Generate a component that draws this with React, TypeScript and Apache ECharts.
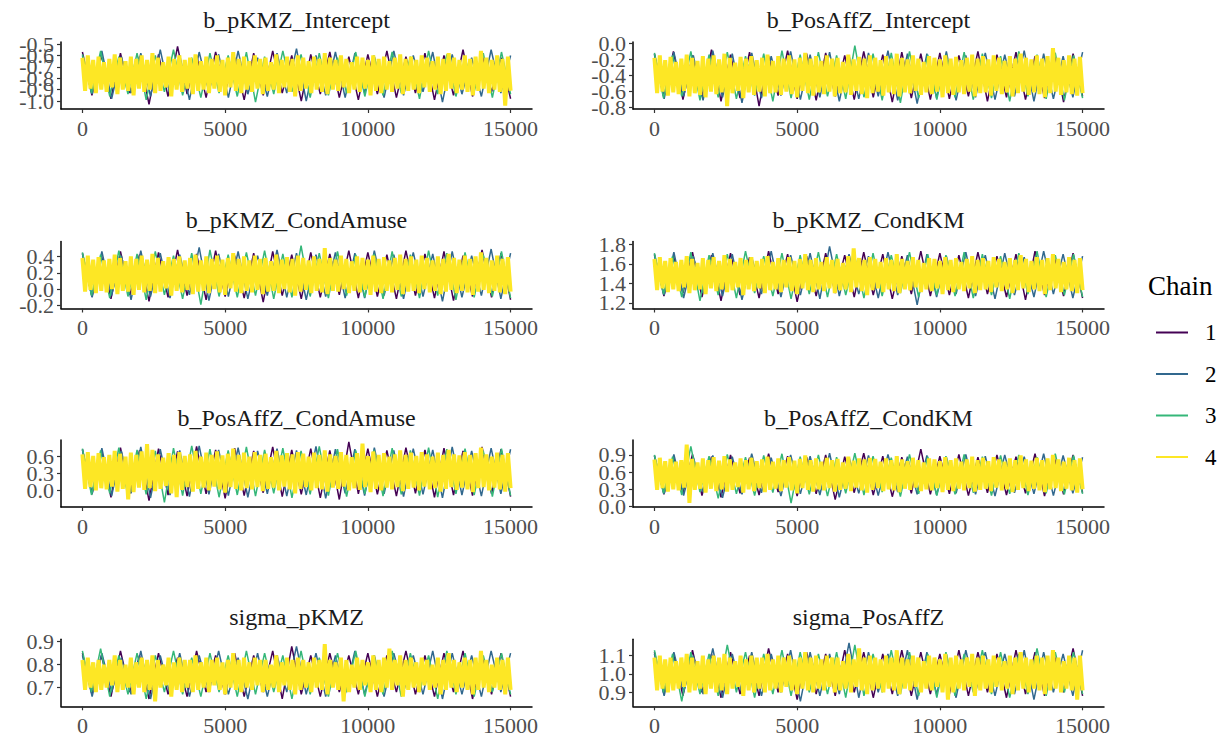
import React, { useEffect, useRef } from "react";
import * as echarts from "echarts";

// ---------- labels ----------
const PANEL_TITLES = [
  "b_pKMZ_Intercept", "b_PosAffZ_Intercept",
  "b_pKMZ_CondAmuse", "b_pKMZ_CondKM",
  "b_PosAffZ_CondAmuse", "b_PosAffZ_CondKM",
  "sigma_pKMZ", "sigma_PosAffZ",
];
const CHAIN_NAMES = ["1", "2", "3", "4"];
const X_TICKS = [0, 5000, 10000, 15000];
const ITER_MAX = 15000;
const Y_TICKS = [
  [-1.0, -0.9, -0.8, -0.7, -0.6, -0.5],
  [-0.8, -0.6, -0.4, -0.2, 0.0],
  [-0.2, 0.0, 0.2, 0.4],
  [1.2, 1.4, 1.6, 1.8],
  [0.0, 0.3, 0.6],
  [0.0, 0.3, 0.6, 0.9],
  [0.7, 0.8, 0.9],
  [0.9, 1.0, 1.1],
];
const Y_LIMITS = [
  [-1.07, -0.482], [-0.816, 0.016],
  [-0.237, 0.582], [1.142, 1.83],
  [-0.293, 0.894], [-0.01, 1.161],
  [0.618, 0.9105], [0.823, 1.19],
];

// ---------- traces (subsampled draws) ----------
const P1_C1 = [-0.57,-0.95,-0.60,-0.98,-0.58,-0.93,-0.61,-1.03,-0.59,-0.96,-0.52,-0.94,-0.60,-0.97,-0.57,-0.92,-0.62,-0.99,-0.58,-0.95,-0.56,-0.93,-0.60,-1.00,-0.59,-0.94,-0.57,-0.97,-0.61,-0.99,-0.59,-0.94,-0.56,-0.97,-0.61,-0.93,-0.58,-0.99,-0.60,-0.95,-0.55,-0.96,-0.59,-0.92,-0.62,-0.98];
const P1_C2 = [-0.60,-0.94,-0.56,-0.98,-0.61,-0.93,-0.58,-0.96,-0.55,-0.95,-0.60,-0.99,-0.57,-0.92,-0.59,-0.97,-0.56,-0.94,-0.62,-0.96,-0.58,-0.93,-0.54,-1.00,-0.60,-0.95,-0.57,-0.97,-0.58,-0.93,-0.61,-0.97,-0.56,-0.95,-0.60,-0.92,-0.57,-1.01,-0.59,-0.94,-0.62,-0.96,-0.55,-0.93,-0.60];
const P1_C3 = [-0.59,-0.93,-0.56,-0.96,-0.61,-0.94,-0.58,-0.99,-0.60,-0.92,-0.55,-0.95,-0.62,-0.97,-0.58,-0.93,-0.60,-0.96,-0.57,-1.01,-0.61,-0.94,-0.56,-0.92,-0.59,-0.97,-0.58,-0.95,-0.62,-0.93,-0.57,-0.96,-0.60,-0.95,-0.57,-0.93,-0.61,-0.98,-0.56,-0.94,-0.59,-0.96,-0.62,-0.92,-0.58,-0.97,-0.57,-0.94];
const P1_C4 = [
  -0.62,-0.91,-0.60,-0.89,-0.64,-0.93,-0.61,-0.90,-0.66,-0.92,-0.63,-0.88,-0.59,-0.94,-0.62,-0.90,-0.65,-0.91,-0.61,-0.95,
  -0.63,-0.89,-0.60,-0.92,-0.64,-0.90,-0.58,-0.93,-0.62,-0.91,-0.66,-0.88,-0.61,-0.96,-0.63,-0.90,-0.60,-0.92,-0.64,-0.89,
  -0.62,-0.94,-0.59,-0.91,-0.65,-0.90,-0.61,-0.93,-0.63,-0.89,-0.60,-0.92,-0.64,-0.95,-0.62,-0.88,-0.57,-0.91,-0.63,-0.93,
  -0.61,-0.90,-0.65,-0.92,-0.60,-0.89,-0.63,-0.94,-0.62,-0.91,-0.66,-0.90,-0.59,-0.93,-0.64,-0.88,-0.61,-0.92,-0.63,-0.96,
  -0.60,-0.91,-0.62,-0.89,-0.65,-0.93,-0.61,-0.90,-0.63,-0.92,-0.58,-0.94,-0.62,-0.90,-0.64,-0.91,-0.60,-0.88,-0.63,-0.93,
  -0.66,-0.90,-0.61,-0.92,-0.62,-0.89,-0.64,-0.95,-0.60,-0.91,-0.63,-0.93,-0.61,-0.90,-0.65,-0.92,-0.62,-0.89,-0.59,-0.94,
  -0.63,-0.91,-0.61,-0.90,-0.64,-0.93,-0.60,-0.88,-0.62,-0.92,-0.65,-0.90,-0.61,-0.94,-0.63,-0.91,-0.58,-0.89,-0.62,-0.93,
  -0.64,-0.90,-0.60,-0.92,-0.63,-0.95,-0.61,-0.91,-0.56,-0.89,-0.62,-0.93,-0.64,-0.90,-0.60,-0.92,-0.63,-1.04,-0.61,-0.91,
];

const P2_C1 = [-0.13,-0.67,-0.10,-0.70,-0.15,-0.66,-0.08,-0.72,-0.14,-0.68,-0.11,-0.78,-0.16,-0.65,-0.09,-0.69,-0.13,-0.71,-0.12,-0.66,-0.15,-0.70,-0.10,-0.67,-0.14,-0.73,-0.11,-0.68,-0.13,-0.70,-0.12,-0.69,-0.15,-0.66,-0.10,-0.72,-0.14,-0.67,-0.11,-0.70,-0.16,-0.68,-0.09,-0.73,-0.13,-0.66];
const P2_C2 = [-0.14,-0.69,-0.11,-0.66,-0.15,-0.71,-0.09,-0.67,-0.13,-0.74,-0.12,-0.68,-0.16,-0.65,-0.10,-0.70,-0.14,-0.67,-0.11,-0.72,-0.15,-0.69,-0.12,-0.66,-0.09,-0.71,-0.13,-0.75,-0.13,-0.68,-0.10,-0.71,-0.15,-0.67,-0.12,-0.70,-0.14,-0.66,-0.09,-0.72,-0.13,-0.69,-0.16,-0.67,-0.11];
const P2_C3 = [-0.12,-0.68,-0.15,-0.66,-0.10,-0.71,-0.14,-0.67,-0.11,-0.69,-0.16,-0.65,-0.13,-0.72,-0.09,-0.68,-0.14,-0.70,-0.11,-0.66,-0.15,-0.69,-0.03,-0.67,-0.13,-0.71,-0.12,-0.74,-0.10,-0.68,-0.14,-0.70,-0.14,-0.67,-0.11,-0.70,-0.13,-0.68,-0.16,-0.72,-0.10,-0.66,-0.14,-0.69,-0.12,-0.71,-0.15,-0.68];
const P2_C4 = [
  -0.18,-0.62,-0.15,-0.60,-0.21,-0.65,-0.17,-0.61,-0.23,-0.63,-0.19,-0.59,-0.14,-0.66,-0.18,-0.62,-0.22,-0.64,-0.16,-0.67,
  -0.19,-0.60,-0.15,-0.63,-0.20,-0.61,-0.13,-0.78,-0.18,-0.62,-0.24,-0.59,-0.17,-0.68,-0.19,-0.61,-0.16,-0.64,-0.21,-0.60,
  -0.18,-0.66,-0.14,-0.62,-0.22,-0.61,-0.16,-0.64,-0.19,-0.60,-0.15,-0.63,-0.20,-0.67,-0.18,-0.59,-0.12,-0.62,-0.19,-0.65,
  -0.16,-0.61,-0.22,-0.63,-0.15,-0.60,-0.19,-0.66,-0.18,-0.62,-0.23,-0.61,-0.14,-0.64,-0.20,-0.59,-0.17,-0.63,-0.19,-0.68,
  -0.15,-0.62,-0.18,-0.60,-0.21,-0.65,-0.16,-0.61,-0.19,-0.63,-0.13,-0.66,-0.18,-0.61,-0.20,-0.62,-0.15,-0.59,-0.19,-0.64,
  -0.23,-0.61,-0.16,-0.63,-0.18,-0.60,-0.20,-0.67,-0.15,-0.62,-0.19,-0.64,-0.17,-0.61,-0.21,-0.63,-0.18,-0.60,-0.14,-0.66,
  -0.19,-0.62,-0.16,-0.61,-0.20,-0.65,-0.15,-0.59,-0.18,-0.63,-0.22,-0.61,-0.16,-0.66,-0.19,-0.62,-0.13,-0.60,-0.18,-0.64,
  -0.20,-0.61,-0.15,-0.63,-0.19,-0.67,-0.16,-0.62,-0.06,-0.60,-0.18,-0.64,-0.21,-0.61,-0.15,-0.63,-0.19,-0.65,-0.17,-0.62,
];

const P3_C1 = [0.44,-0.09,0.41,-0.12,0.46,-0.07,0.42,-0.15,0.45,-0.10,0.48,-0.08,0.43,-0.13,0.47,-0.09,0.41,-0.11,0.44,-0.16,0.46,-0.08,0.42,-0.12,0.45,-0.10,0.43,-0.07,0.47,-0.11,0.45,-0.09,0.42,-0.12,0.47,-0.08,0.43,-0.11,0.46,-0.14,0.41,-0.09,0.48,-0.10,0.44,-0.13];
const P3_C2 = [0.43,-0.10,0.46,-0.08,0.41,-0.13,0.47,-0.09,0.44,-0.11,0.42,-0.07,0.51,-0.14,0.43,-0.09,0.46,-0.12,0.41,-0.08,0.48,-0.10,0.44,-0.13,0.42,-0.09,0.45,-0.11,0.44,-0.11,0.47,-0.08,0.42,-0.12,0.45,-0.09,0.43,-0.15,0.46,-0.10,0.41,-0.08,0.49,-0.12,0.44];
const P3_C3 = [0.45,-0.08,0.42,-0.11,0.47,-0.09,0.43,-0.13,0.46,-0.07,0.41,-0.12,0.44,-0.19,0.48,-0.09,0.42,-0.10,0.45,-0.08,0.47,-0.12,0.43,-0.10,0.53,-0.09,0.44,-0.11,0.46,-0.08,0.42,-0.10,0.43,-0.12,0.46,-0.09,0.42,-0.11,0.47,-0.08,0.44,-0.13,0.45,-0.10,0.42,-0.09,0.46,-0.11];
const P3_C4 = [
  0.38,-0.03,0.41,-0.01,0.36,-0.05,0.39,-0.02,0.35,-0.04,0.37,0.00,0.42,-0.06,0.38,-0.02,0.34,-0.03,0.40,-0.07,
  0.37,-0.01,0.41,-0.04,0.36,-0.02,0.43,-0.05,0.38,-0.03,0.34,0.01,0.39,-0.08,0.37,-0.02,0.40,-0.04,0.35,-0.01,
  0.38,-0.06,0.42,-0.03,0.35,-0.02,0.40,-0.05,0.37,0.00,0.41,-0.04,0.36,-0.07,0.38,0.01,0.44,-0.03,0.37,-0.05,
  0.40,-0.02,0.35,-0.04,0.41,-0.01,0.37,-0.06,0.38,-0.03,0.34,-0.02,0.42,-0.05,0.36,0.00,0.39,-0.04,0.37,-0.08,
  0.41,-0.03,0.38,-0.01,0.35,-0.05,0.40,-0.02,0.37,-0.04,0.50,-0.06,0.38,-0.02,0.36,-0.03,0.41,0.00,0.37,-0.05,
  0.34,-0.02,0.40,-0.04,0.38,-0.01,0.36,-0.07,0.41,-0.03,0.37,-0.05,0.39,-0.02,0.35,-0.04,0.38,-0.01,0.42,-0.06,
  0.37,-0.03,0.40,-0.02,0.36,-0.05,0.41,0.00,0.38,-0.04,0.35,-0.02,0.40,-0.06,0.37,-0.03,0.43,-0.01,0.38,-0.05,
  0.36,-0.02,0.41,-0.04,0.37,-0.07,0.40,-0.03,0.45,-0.01,0.38,-0.05,0.35,-0.02,0.41,-0.04,0.37,-0.06,0.39,-0.03,
];

const P4_C1 = [1.70,1.27,1.68,1.30,1.72,1.26,1.69,1.22,1.71,1.28,1.67,1.25,1.73,1.29,1.70,1.21,1.68,1.27,1.71,1.30,1.69,1.26,1.72,1.28,1.70,1.24,1.68,1.29,1.73,1.27,1.71,1.28,1.69,1.25,1.72,1.29,1.68,1.26,1.70,1.23,1.73,1.28,1.69,1.27,1.71,1.25];
const P4_C2 = [1.69,1.28,1.72,1.25,1.68,1.30,1.71,1.27,1.70,1.23,1.67,1.29,1.73,1.26,1.69,1.28,1.71,1.24,1.78,1.27,1.70,1.29,1.68,1.25,1.72,1.28,1.69,1.18,1.70,1.26,1.68,1.29,1.72,1.27,1.69,1.24,1.71,1.28,1.67,1.26,1.73,1.29,1.70,1.25,1.68];
const P4_C3 = [1.71,1.29,1.68,1.26,1.72,1.22,1.69,1.28,1.70,1.25,1.73,1.30,1.68,1.27,1.71,1.24,1.69,1.29,1.72,1.26,1.70,1.28,1.67,1.25,1.71,1.27,1.69,1.30,1.72,1.26,1.70,1.28,1.69,1.27,1.72,1.25,1.70,1.28,1.68,1.24,1.71,1.29,1.73,1.26,1.69,1.28,1.70,1.26];
const P4_C4 = [
  1.65,1.33,1.67,1.35,1.63,1.31,1.66,1.34,1.62,1.32,1.64,1.36,1.68,1.30,1.65,1.33,1.61,1.34,1.66,1.29,
  1.64,1.35,1.67,1.32,1.63,1.34,1.69,1.31,1.65,1.33,1.62,1.36,1.66,1.28,1.64,1.34,1.67,1.32,1.63,1.35,
  1.65,1.30,1.68,1.33,1.62,1.34,1.66,1.31,1.64,1.36,1.67,1.32,1.63,1.29,1.65,1.35,1.70,1.33,1.64,1.31,
  1.66,1.34,1.62,1.32,1.67,1.35,1.64,1.30,1.65,1.33,1.61,1.34,1.68,1.31,1.76,1.36,1.66,1.32,1.64,1.28,
  1.67,1.33,1.65,1.35,1.62,1.31,1.66,1.34,1.64,1.32,1.70,1.30,1.65,1.34,1.63,1.33,1.67,1.36,1.64,1.31,
  1.61,1.34,1.66,1.32,1.65,1.35,1.63,1.29,1.67,1.33,1.64,1.31,1.66,1.34,1.62,1.32,1.65,1.35,1.68,1.30,
  1.64,1.33,1.66,1.34,1.63,1.31,1.67,1.36,1.65,1.32,1.62,1.34,1.66,1.30,1.64,1.33,1.69,1.35,1.65,1.31,
  1.63,1.34,1.67,1.32,1.64,1.29,1.66,1.33,1.70,1.35,1.65,1.31,1.62,1.34,1.67,1.32,1.64,1.30,1.66,1.33,
];

const P5_C1 = [0.73,-0.07,0.70,-0.12,0.76,-0.05,0.71,-0.18,0.74,-0.08,0.69,-0.10,0.78,-0.06,0.72,-0.14,0.75,-0.09,0.70,-0.04,0.77,-0.11,0.72,-0.07,0.74,-0.13,0.71,-0.16,0.86,-0.06,0.74,-0.07,0.71,-0.10,0.76,-0.05,0.72,-0.12,0.75,-0.08,0.70,-0.09,0.77,-0.06,0.73,-0.11];
const P5_C2 = [0.72,-0.06,0.75,-0.10,0.70,-0.05,0.77,-0.13,0.73,-0.08,0.71,-0.11,0.79,-0.07,0.72,-0.09,0.76,-0.12,0.70,-0.06,0.74,-0.10,0.71,-0.08,0.78,-0.14,0.73,-0.05,0.73,-0.09,0.76,-0.06,0.71,-0.11,0.74,-0.07,0.72,-0.13,0.77,-0.08,0.70,-0.10,0.75,-0.06,0.73];
const P5_C3 = [0.74,-0.08,0.71,-0.05,0.76,-0.11,0.72,-0.07,0.70,-0.21,0.75,-0.09,0.79,-0.06,0.73,-0.12,0.71,-0.08,0.77,-0.10,0.72,-0.05,0.75,-0.13,0.70,-0.07,0.78,-0.09,0.73,-0.11,0.71,-0.06,0.72,-0.10,0.75,-0.07,0.71,-0.09,0.76,-0.12,0.73,-0.06,0.74,-0.08,0.70,-0.11,0.74,-0.09];
const P5_C4 = [
  0.64,0.03,0.68,0.06,0.61,0.00,0.66,0.04,0.59,0.02,0.63,0.07,0.70,-0.02,0.65,0.03,0.60,-0.16,0.67,-0.03,
  0.63,0.05,0.69,0.01,0.82,0.04,0.72,-0.01,0.64,0.03,0.58,0.08,0.66,-0.05,0.63,-0.12,0.68,0.01,0.61,0.06,
  0.64,-0.02,0.70,0.03,0.60,0.05,0.67,0.00,0.63,0.07,0.69,0.02,0.62,-0.04,0.65,0.06,0.74,0.03,0.63,0.00,
  0.67,0.04,0.60,0.02,0.68,0.06,0.63,-0.01,0.65,0.03,0.59,0.05,0.70,0.00,0.62,0.07,0.66,0.02,0.64,-0.05,
  0.68,0.03,0.65,0.06,0.60,0.00,0.67,0.04,0.63,0.02,0.71,-0.02,0.64,0.05,0.61,0.03,0.68,0.07,0.63,0.00,
  0.59,0.04,0.66,0.01,0.83,0.06,0.61,-0.03,0.69,0.03,0.63,0.00,0.66,0.05,0.60,0.02,0.64,0.06,0.71,-0.01,
  0.63,0.03,0.67,0.05,0.61,0.00,0.68,0.07,0.64,0.02,0.60,0.04,0.67,-0.02,0.63,0.03,0.72,0.06,0.64,0.01,
  0.62,0.05,0.68,0.02,0.63,-0.03,0.66,0.04,0.76,0.06,0.64,0.00,0.60,0.05,0.67,0.02,0.63,-0.02,0.66,0.04,
];

const P6_C1 = [0.89,0.21,0.86,0.24,0.91,0.19,0.87,0.16,0.90,0.23,0.85,0.20,0.92,0.25,0.88,0.18,0.86,0.22,0.90,0.12,0.87,0.24,0.93,0.20,0.88,0.17,0.86,0.23,1.00,0.21,0.88,0.22,0.91,0.19,0.86,0.24,0.90,0.20,0.87,0.23,0.92,0.18,0.88,0.21,0.90,0.24];
const P6_C2 = [0.88,0.22,0.91,0.19,0.86,0.25,0.89,0.15,0.87,0.21,0.92,0.24,0.85,0.18,0.90,0.22,0.88,0.20,0.93,0.16,0.86,0.23,0.89,0.19,0.91,0.25,0.87,0.21,0.89,0.20,0.86,0.23,0.91,0.21,0.88,0.18,0.90,0.24,0.87,0.22,0.92,0.19,0.89,0.23,0.86];
const P6_C3 = [0.90,0.23,0.87,0.20,1.05,0.25,0.88,0.14,0.91,0.22,0.86,0.19,0.89,0.24,0.92,0.06,0.87,0.21,0.90,0.18,0.86,0.23,0.93,0.20,0.88,0.25,0.85,0.17,0.91,0.22,0.87,0.19,0.88,0.21,0.91,0.24,0.87,0.19,0.89,0.22,0.90,0.20,0.86,0.23,0.92,0.21,0.89,0.22];
const P6_C4 = [
  0.82,0.29,0.85,0.32,0.79,0.26,0.83,0.30,0.78,0.28,0.81,0.33,1.08,0.06,0.83,0.29,0.77,0.31,0.84,0.24,
  0.81,0.31,0.86,0.27,0.80,0.30,0.88,0.26,0.82,0.29,0.77,0.34,0.84,0.24,0.81,0.30,0.85,0.27,0.79,0.32,
  0.82,0.25,0.87,0.29,0.78,0.31,0.84,0.27,0.81,0.33,0.86,0.28,0.80,0.23,0.83,0.32,0.89,0.29,0.81,0.26,
  0.84,0.30,0.78,0.28,0.85,0.32,0.81,0.26,0.83,0.29,0.77,0.31,0.87,0.27,0.80,0.33,0.84,0.28,0.82,0.24,
  0.85,0.29,0.83,0.32,0.78,0.27,0.84,0.30,0.81,0.28,0.88,0.25,0.82,0.31,0.79,0.29,0.85,0.33,0.81,0.27,
  0.77,0.30,0.84,0.28,0.82,0.32,0.79,0.25,0.86,0.29,0.81,0.27,0.84,0.31,0.78,0.28,0.82,0.32,0.87,0.26,
  0.81,0.29,0.85,0.31,0.79,0.27,0.86,0.33,0.82,0.28,0.78,0.30,0.84,0.25,0.81,0.29,0.89,0.32,0.82,0.27,
  0.80,0.31,0.85,0.28,0.81,0.25,0.84,0.30,0.90,0.32,0.82,0.27,0.78,0.31,0.85,0.28,0.81,0.24,0.84,0.30,
];

const P7_C1 = [0.85,0.67,0.84,0.66,0.86,0.68,0.84,0.65,0.85,0.67,0.83,0.66,0.86,0.68,0.84,0.67,0.85,0.66,0.84,0.68,0.86,0.65,0.88,0.67,0.84,0.66,0.85,0.68,0.84,0.67,0.85,0.66,0.84,0.68,0.86,0.67,0.84,0.66,0.85,0.68,0.86,0.65,0.84,0.67,0.85,0.66];
const P7_C2 = [0.84,0.66,0.85,0.68,0.83,0.67,0.86,0.65,0.84,0.67,0.85,0.66,0.84,0.68,0.86,0.67,0.83,0.65,0.85,0.66,0.84,0.68,0.88,0.67,0.85,0.66,0.84,0.67,0.86,0.67,0.84,0.66,0.85,0.68,0.84,0.67,0.86,0.65,0.85,0.67,0.84,0.66,0.86,0.68,0.85];
const P7_C3 = [0.86,0.68,0.87,0.66,0.84,0.67,0.85,0.65,0.84,0.68,0.86,0.67,0.83,0.66,0.85,0.68,0.84,0.66,0.86,0.67,0.85,0.68,0.84,0.65,0.86,0.67,0.83,0.66,0.85,0.68,0.86,0.66,0.84,0.67,0.86,0.66,0.85,0.68,0.84,0.65,0.86,0.67,0.85,0.66,0.84,0.68,0.85,0.67];
const P7_C4 = [
  0.82,0.69,0.83,0.70,0.81,0.68,0.82,0.69,0.80,0.70,0.82,0.71,0.84,0.68,0.82,0.69,0.80,0.70,0.83,0.67,
  0.81,0.70,0.83,0.68,0.82,0.69,0.84,0.64,0.82,0.70,0.80,0.71,0.83,0.66,0.81,0.69,0.83,0.68,0.82,0.70,
  0.82,0.68,0.84,0.69,0.81,0.70,0.83,0.68,0.82,0.71,0.83,0.69,0.81,0.67,0.82,0.70,0.85,0.69,0.82,0.68,
  0.83,0.70,0.81,0.69,0.83,0.71,0.82,0.68,0.82,0.69,0.80,0.70,0.84,0.68,0.81,0.71,0.83,0.69,0.82,0.67,
  0.83,0.69,0.82,0.70,0.81,0.68,0.83,0.70,0.82,0.69,0.89,0.67,0.82,0.70,0.81,0.69,0.83,0.64,0.82,0.68,
  0.80,0.70,0.83,0.69,0.82,0.71,0.81,0.68,0.84,0.69,0.82,0.68,0.83,0.70,0.87,0.69,0.82,0.71,0.84,0.66,
  0.82,0.69,0.83,0.70,0.81,0.68,0.83,0.71,0.82,0.69,0.80,0.70,0.83,0.67,0.82,0.69,0.85,0.70,0.82,0.68,
  0.81,0.70,0.83,0.69,0.82,0.67,0.83,0.69,0.86,0.70,0.82,0.68,0.80,0.70,0.83,0.69,0.82,0.67,0.83,0.69,
];

const P8_C1 = [1.12,0.89,1.11,0.88,1.13,0.90,1.11,0.87,1.12,0.89,1.10,0.88,1.14,0.90,1.11,0.86,1.12,0.89,1.11,0.88,1.13,0.90,1.12,0.87,1.11,0.89,1.13,0.88,1.12,0.89,1.11,0.89,1.13,0.88,1.12,0.90,1.11,0.87,1.13,0.89,1.12,0.88,1.11,0.90,1.14,0.88];
const P8_C2 = [1.11,0.88,1.12,0.90,1.10,0.89,1.14,0.87,1.11,0.89,1.12,0.88,1.11,0.90,1.13,0.85,1.12,0.88,1.11,0.89,1.17,0.87,1.12,0.90,1.11,0.88,1.13,0.86,1.12,0.89,1.11,0.87,1.13,0.90,1.12,0.88,1.11,0.89,1.13,0.86,1.12,0.90,1.11,0.88,1.13];
const P8_C3 = [1.13,0.90,1.11,0.85,1.12,0.89,1.11,0.88,1.16,0.90,1.12,0.87,1.11,0.89,1.13,0.88,1.12,0.90,1.11,0.89,1.12,0.87,1.16,0.88,1.11,0.90,1.13,0.89,1.12,0.88,1.11,0.87,1.12,0.88,1.11,0.90,1.13,0.89,1.12,0.87,1.11,0.89,1.14,0.88,1.12,0.90,1.12,0.89];
const P8_C4 = [
  1.09,0.91,1.10,0.92,1.08,0.90,1.09,0.91,1.07,0.92,1.09,0.93,1.11,0.90,1.09,0.91,1.07,0.92,1.10,0.89,
  1.08,0.92,1.10,0.90,1.09,0.91,1.11,0.89,1.09,0.92,1.07,0.93,1.10,0.88,1.08,0.91,1.10,0.90,1.09,0.92,
  1.09,0.90,1.11,0.91,1.08,0.92,1.10,0.90,1.09,0.93,1.10,0.91,1.08,0.89,1.09,0.92,1.12,0.91,1.09,0.90,
  1.10,0.92,1.08,0.91,1.10,0.93,1.09,0.90,1.09,0.91,1.07,0.92,1.11,0.90,1.08,0.93,1.14,0.91,1.09,0.89,
  1.10,0.91,1.09,0.92,1.08,0.90,1.10,0.92,1.09,0.91,1.13,0.89,1.09,0.92,1.08,0.91,1.10,0.93,1.09,0.90,
  1.07,0.92,1.10,0.91,1.09,0.93,1.08,0.90,1.11,0.86,1.09,0.90,1.10,0.92,1.08,0.91,1.09,0.93,1.11,0.88,
  1.09,0.91,1.10,0.92,1.08,0.90,1.10,0.93,1.09,0.91,1.07,0.92,1.10,0.89,1.09,0.91,1.12,0.92,1.09,0.90,
  1.08,0.92,1.10,0.91,1.09,0.89,1.10,0.91,1.13,0.92,1.09,0.90,1.07,0.92,1.10,0.91,1.09,0.86,1.10,0.91,
];

const TRACES = [
  [P1_C1, P1_C2, P1_C3, P1_C4],
  [P2_C1, P2_C2, P2_C3, P2_C4],
  [P3_C1, P3_C2, P3_C3, P3_C4],
  [P4_C1, P4_C2, P4_C3, P4_C4],
  [P5_C1, P5_C2, P5_C3, P5_C4],
  [P6_C1, P6_C2, P6_C3, P6_C4],
  [P7_C1, P7_C2, P7_C3, P7_C4],
  [P8_C1, P8_C2, P8_C3, P8_C4],
];

// ---------- styling / layout ----------
const CHAIN_COLORS = ["#440154", "#31688E", "#35B779", "#FDE725"];
const LINE_WIDTHS = [1.5, 1.5, 1.5, 4];
const FONT = "'Liberation Serif', 'Times New Roman', serif";
const COL_LEFT = [61, 633];
const ROW_TOP = [42, 241.5, 440, 639.3];
const PANEL_W = 471;
const PANEL_H = 67;
const X_MIN = -750;
const X_MAX = 15750;

function buildOption() {
  const grid: any[] = [];
  const xAxis: any[] = [];
  const yAxis: any[] = [];
  const series: any[] = [];
  const graphic: any[] = [];

  PANEL_TITLES.forEach((title, p) => {
    const col = p % 2;
    const row = Math.floor(p / 2);
    const left = COL_LEFT[col];
    const top = ROW_TOP[row];
    const [yMin, yMax] = Y_LIMITS[p];
    const ticks = Y_TICKS[p];
    // axis ends are bracketed so that ECharts' min/max label hiding only drops
    // the (empty) end placeholders and keeps every real tick label
    const yValues = [yMin, ...ticks, yMax];
    grid.push({ left, top, width: PANEL_W, height: PANEL_H, containLabel: false });
    xAxis.push({
      type: "value",
      gridIndex: p,
      min: X_MIN,
      max: X_MAX,
      axisLine: { show: true, onZero: false, lineStyle: { color: "#000", width: 1.5 } },
      axisTick: { show: true, customValues: X_TICKS, length: 4, lineStyle: { color: "#333", width: 1.2 } },
      axisLabel: {
        show: true,
        customValues: X_TICKS,
        interval: 0,
        hideOverlap: false,
        showMinLabel: true,
        showMaxLabel: true,
        color: "#4D4D4D",
        fontFamily: FONT,
        fontSize: 22,
        margin: 8,
        formatter: (v: number) => String(v),
      },
      splitLine: { show: false },
    });
    yAxis.push({
      type: "value",
      gridIndex: p,
      min: yMin,
      max: yMax,
      axisLine: { show: true, onZero: false, lineStyle: { color: "#000", width: 1.5 } },
      axisTick: { show: true, customValues: yValues, length: 4, lineStyle: { color: "#333", width: 1.2 } },
      axisLabel: {
        show: true,
        customValues: yValues,
        hideOverlap: false,
        showMinLabel: false,
        showMaxLabel: false,
        color: "#4D4D4D",
        fontFamily: FONT,
        fontSize: 22,
        margin: 7,
        formatter: (v: number) => (ticks.some((t) => Math.abs(t - v) < 1e-9) ? v.toFixed(1) : ""),
      },
      splitLine: { show: false },
    });
    graphic.push({
      type: "text",
      x: left + PANEL_W / 2,
      y: top - 22,
      silent: true,
      style: {
        text: title,
        fill: "#1A1A1A",
        font: `24px ${FONT}`,
        align: "center",
        verticalAlign: "middle",
        textAlign: "center",
        textVerticalAlign: "middle",
      },
    });
    TRACES[p].forEach((vals, c) => {
      series.push({
        type: "line",
        name: CHAIN_NAMES[c],
        xAxisIndex: p,
        yAxisIndex: p,
        data: vals.map((v, i) => [(i * ITER_MAX) / (vals.length - 1), v]),
        symbol: "none",
        showSymbol: false,
        silent: true,
        itemStyle: { color: CHAIN_COLORS[c] },
        lineStyle: { color: CHAIN_COLORS[c], width: LINE_WIDTHS[c], join: "bevel" },
        emphasis: { disabled: true },
      });
    });
  });

  graphic.push({
    type: "text",
    x: 1148,
    y: 286,
    silent: true,
    style: {
      text: "Chain",
      fill: "#000",
      font: `27px ${FONT}`,
      align: "left",
      verticalAlign: "middle",
      textAlign: "left",
      textVerticalAlign: "middle",
    },
  });

  return {
    animation: false,
    backgroundColor: "#FFFFFF",
    grid,
    xAxis,
    yAxis,
    series,
    graphic,
    legend: {
      show: true,
      orient: "vertical",
      left: 1151,
      top: 316,
      itemWidth: 32,
      itemHeight: 2,
      itemGap: 18.5,
      selectedMode: false,
      icon: "rect",
      data: CHAIN_NAMES.map((n) => ({ name: n, icon: "rect" })),
      textStyle: { color: "#000", fontFamily: FONT, fontSize: 23, padding: [0, 0, 0, 12] },
    },
  };
}

export default function App() {
  const ref = useRef<HTMLDivElement>(null);
  useEffect(() => {
    if (!ref.current) return;
    const chart = echarts.init(ref.current, undefined, { renderer: "svg" });
    chart.setOption(buildOption() as any);
    return () => chart.dispose();
  }, []);
  return (
    <div
      ref={ref}
      style={{ position: "fixed", left: 0, top: 0, width: 1225, height: 741, background: "#fff" }}
    />
  );
}
